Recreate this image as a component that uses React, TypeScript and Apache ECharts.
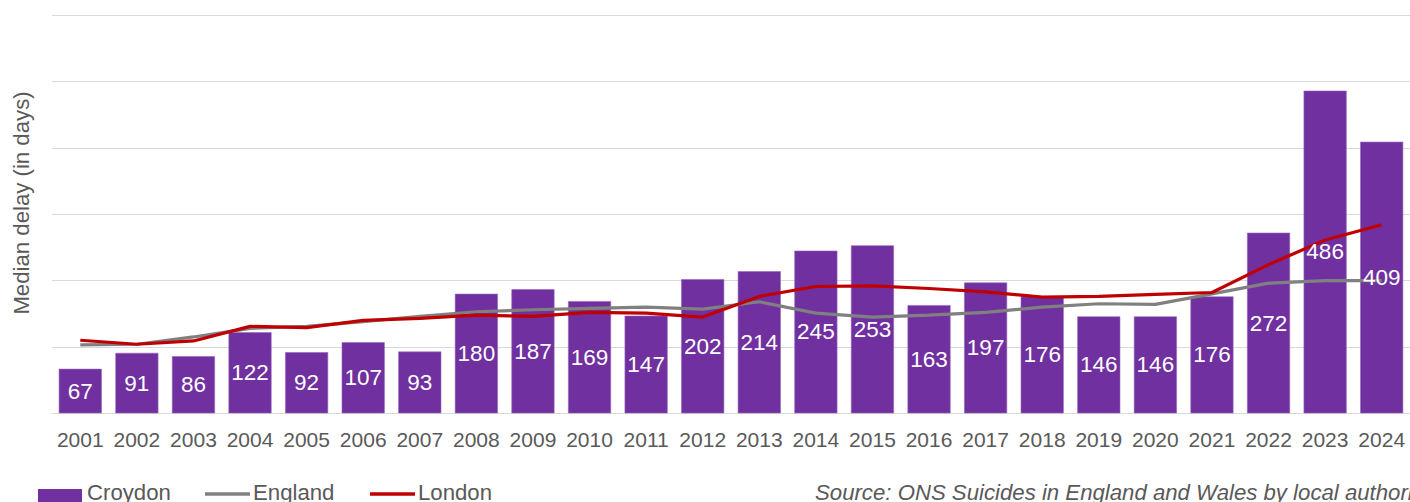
import React, { useEffect, useRef } from "react";
import * as echarts from "echarts";

const years = ["2001","2002","2003","2004","2005","2006","2007","2008","2009","2010","2011","2012","2013","2014","2015","2016","2017","2018","2019","2020","2021","2022","2023","2024"];
const croydon = [67, 91, 86, 122, 92, 107, 93, 180, 187, 169, 147, 202, 214, 245, 253, 163, 197, 176, 146, 146, 176, 272, 486, 409];
const england = [103, 104, 115, 128, 131, 138, 146, 153, 156, 158, 160, 157, 168, 151, 145, 148, 152, 160, 165, 164, 180, 196, 200, 200];
const london = [110, 104, 109, 131, 129, 140, 143, 148, 146, 152, 151, 145, 176, 191, 192, 188, 183, 175, 176, 179, 182, 224, 261, 284];

const seriesNames = ["Croydon", "England", "London"];
const seriesColors = ["#7030A0", "#808080", "#C00000"];
const yAxisTitle = "Median delay (in days)";
const sourceText = "Source: ONS Suicides in England and Wales by local authority";

const FONT = "'Liberation Sans', Arial, sans-serif";
const TXT = "#595959";
const FS = 21;
const FS2 = 22.2;
const FSL = 22.5;

export default function App() {
  const ref = useRef<HTMLDivElement>(null);
  useEffect(() => {
    if (!ref.current) return;
    const chart = echarts.init(ref.current, null, { renderer: "svg" });
    const legendY = 492.5;
    chart.setOption({
      animation: false,
      textStyle: { fontFamily: FONT },
      grid: { left: 52, top: 15, width: 1360, bottom: 88.7, containLabel: false },
      xAxis: {
        type: "category",
        data: years,
        axisLine: { show: true, lineStyle: { color: "#d9d9d9", width: 1 } },
        axisTick: { show: false },
        axisLabel: { fontSize: FS, color: TXT, margin: 16, fontFamily: FONT, interval: 0 },
      },
      yAxis: {
        type: "value",
        min: 0,
        max: 600,
        interval: 100,
        axisLabel: { show: false },
        axisLine: { show: false },
        axisTick: { show: false },
        splitLine: { lineStyle: { color: "#d9d9d9", width: 1 } },
      },
      graphic: [
        {
          type: "text",
          x: 21,
          y: 203,
          rotation: Math.PI / 2,
          style: {
            text: yAxisTitle,
            fontSize: FS2,
            fill: TXT,
            fontFamily: FONT,
            align: "center",
            verticalAlign: "middle",
          },
        },
        {
          type: "text",
          x: 815,
          y: legendY,
          style: {
            text: sourceText,
            fontSize: FS2,
            fontStyle: "italic",
            fill: TXT,
            fontFamily: FONT,
            verticalAlign: "middle",
          },
        },
        // legend
        {
          type: "rect",
          shape: { x: 38, y: 489, width: 44, height: 13 },
          style: { fill: seriesColors[0] },
        },
        {
          type: "text",
          x: 87,
          y: legendY,
          style: { text: seriesNames[0], fontSize: FS2, fill: TXT, fontFamily: FONT, verticalAlign: "middle" },
        },
        {
          type: "line",
          shape: { x1: 205, y1: 494, x2: 250, y2: 494 },
          style: { stroke: seriesColors[1], lineWidth: 3.5 },
        },
        {
          type: "text",
          x: 253,
          y: legendY,
          style: { text: seriesNames[1], fontSize: FS2, fill: TXT, fontFamily: FONT, verticalAlign: "middle" },
        },
        {
          type: "line",
          shape: { x1: 370, y1: 494, x2: 415, y2: 494 },
          style: { stroke: seriesColors[2], lineWidth: 3.5 },
        },
        {
          type: "text",
          x: 418,
          y: legendY,
          style: { text: seriesNames[2], fontSize: FS2, fill: TXT, fontFamily: FONT, verticalAlign: "middle" },
        },
      ],
      series: [
        {
          name: seriesNames[0],
          type: "bar",
          data: croydon,
          barWidth: 43,
          z: 2,
          itemStyle: { color: seriesColors[0], borderColor: "#9466bb", borderWidth: 0.6 },
        },
        {
          name: seriesNames[1],
          type: "line",
          data: england,
          symbol: "none",
          z: 3,
          lineStyle: { color: seriesColors[1], width: 3.2 },
          itemStyle: { color: seriesColors[1] },
        },
        {
          name: seriesNames[2],
          type: "line",
          data: london,
          symbol: "none",
          z: 4,
          lineStyle: { color: seriesColors[2], width: 3.2 },
          itemStyle: { color: seriesColors[2] },
        },
        {
          name: "labels",
          type: "bar",
          data: croydon,
          barWidth: 43,
          barGap: "-100%",
          z: 10,
          silent: true,
          itemStyle: { color: "rgba(0,0,0,0)" },
          label: {
            show: true,
            position: "inside",
            fontSize: FSL,
            color: "#ffffff",
            fontFamily: FONT,
          },
        },
      ],
    });
    return () => chart.dispose();
  }, []);
  return (
    <div
      ref={ref}
      style={{ position: "absolute", left: 0, top: 0, width: 1410, height: 502, background: "#ffffff" }}
    />
  );
}
